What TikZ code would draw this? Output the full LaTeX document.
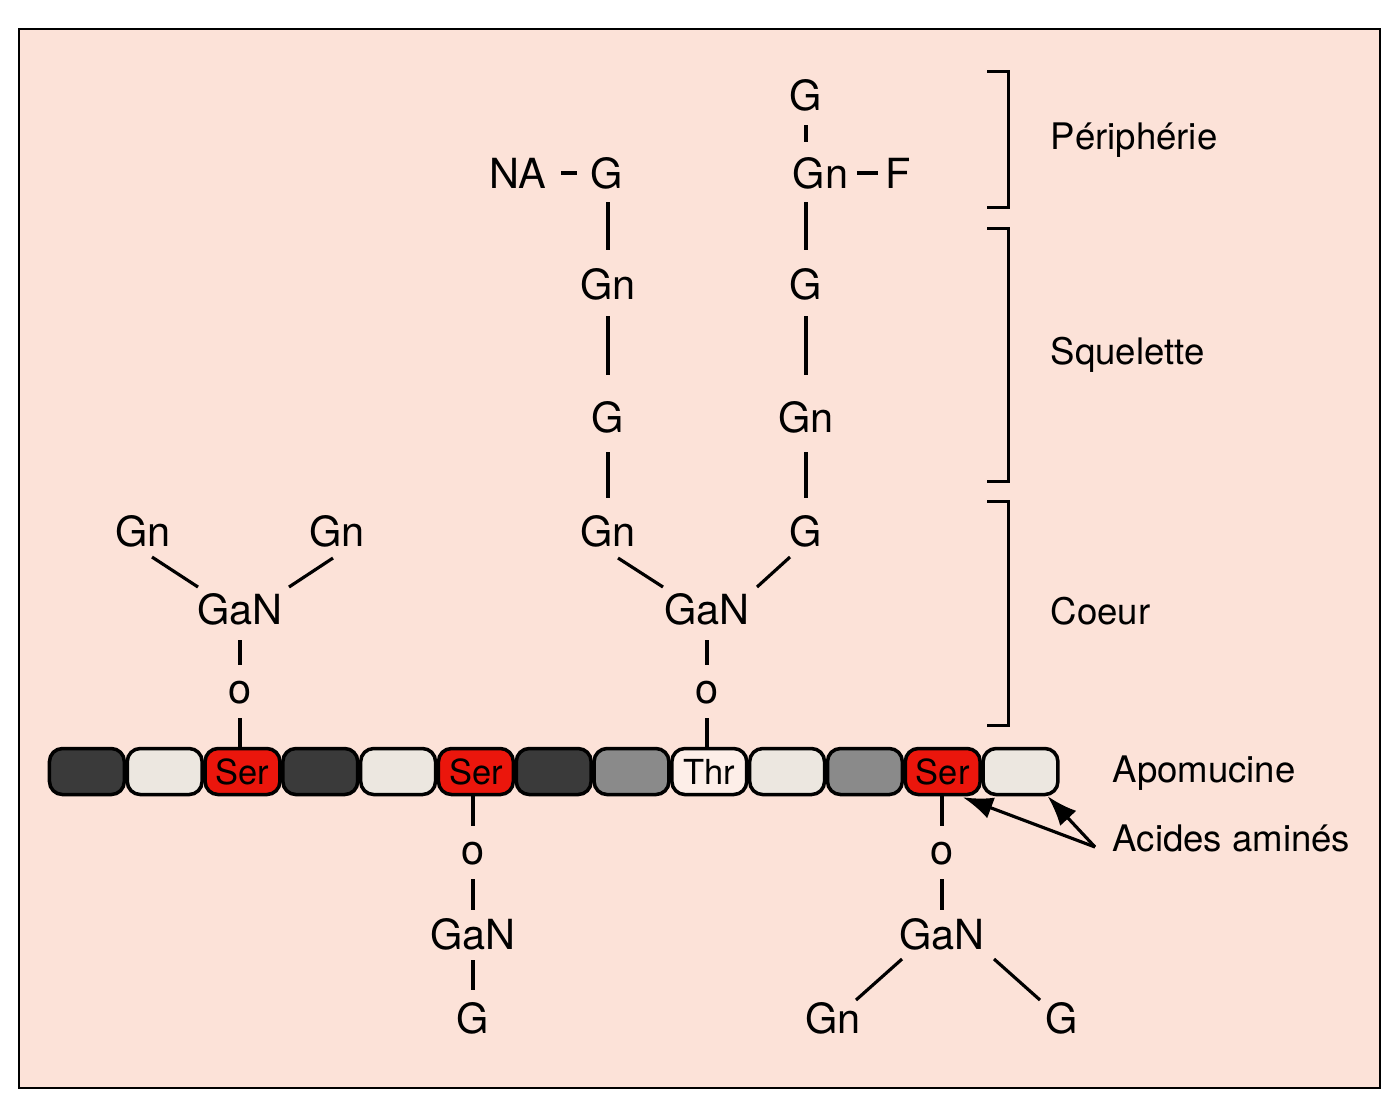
\documentclass[tikz,border=0pt]{standalone}
\usepackage{fontspec}
\setmainfont{TeX Gyre Heros}
\usetikzlibrary{calc,arrows.meta}
\definecolor{bg}{RGB}{252,226,216}
\definecolor{dk}{RGB}{58,58,58}
\definecolor{lt}{RGB}{236,231,224}
\definecolor{gr}{RGB}{138,138,138}
\definecolor{rd}{RGB}{235,22,12}
\definecolor{pl}{RGB}{253,238,232}
\begin{document}
\begin{tikzpicture}[x=0.01cm,y=-0.01cm,
  t/.style={font=\fontsize{11.8}{13}\selectfont, inner sep=0pt, anchor=base},
  tw/.style={t, anchor=base west},
  lab/.style={font=\fontsize{10.4}{12}\selectfont, inner sep=0pt, anchor=base west},
  lk/.style={line width=0.9pt},
  aa/.style={draw, line width=1pt, rounded corners=0.13cm, minimum width=0.748cm, minimum height=0.46cm, inner sep=0pt, font=\fontsize{9.8}{11}\selectfont},
  brk/.style={line width=0.85pt}]
\useasboundingbox (0,0) rectangle (1392,1108);
\fill[white] (0,0) rectangle (1392,1108);
\draw[line width=0.7pt, fill=bg] (19,29) rectangle (1380,1088);

% amino acid chain
\foreach \i/\c/\l in {0/dk/{},1/lt/{},2/rd/Ser,3/dk/{},4/lt/{},5/rd/Ser,6/dk/{},7/gr/{},8/pl/Thr,9/lt/{},10/gr/{},11/rd/Ser,12/lt/{}}
  \node[aa, fill=\c] (b\i) at ({48+77.8*(\i+0.5)},771.5) {\l};

% left tree (Ser)
\node[t] (gnL1) at (143,546) {Gn};
\node[t] (gnL2) at (337,546) {Gn};
\node[t] (ganL) at (240,624) {GaN};
\node[t] (oL) at (240,703) {o};
\draw[lk] ($(gnL1.base)+(9,11)$) -- ($(ganL.base)+(-42,-37)$);
\draw[lk] ($(gnL2.base)+(-4,12)$) -- ($(ganL.base)+(49,-37)$);
\draw[lk] ($(ganL.base)+(0,16)$) -- ($(oL.base)+(0,-38)$);
\draw[lk] ($(oL.base)+(0,15)$) -- (oL.base |- b2.north);

% middle tree (Thr)
\node[t] (ganM) at (707,624) {GaN};
\node[t] (oM) at (707,703) {o};
\node[t] (gnM1) at (608,546) {Gn};
\node[t] (gM1) at (806,546) {G};
\node[t] (gM2) at (608,432) {G};
\node[t] (gnM2) at (806,432) {Gn};
\node[t] (gnM3) at (608,299) {Gn};
\node[t] (gM3) at (806,299) {G};
\node[t] (gNA) at (607,188) {G};
\node[t] (na) at (518,188) {NA};
\node[tw] (gnM4) at (792,188) {Gn};
\node[tw] (f) at (885,188) {F};
\node[t] (gTop) at (806,110) {G};

\draw[lk] ($(gnM1.base)+(10,12)$) -- ($(ganM.base)+(-44,-37)$);
\draw[lk] ($(gM1.base)+(-16,11)$) -- ($(ganM.base)+(50,-37)$);
\draw[lk] ($(ganM.base)+(0,16)$) -- ($(oM.base)+(0,-38)$);
\draw[lk] ($(oM.base)+(0,15)$) -- (oM.base |- b8.north);

\draw[lk] ($(gM2.base)+(0,20)$) -- ($(gnM1.base)+(0,-48)$);
\draw[lk] ($(gnM3.base)+(0,17)$) -- ($(gM2.base)+(0,-57)$);
\draw[lk] ($(gNA.base)+(1,14)$) -- ($(gnM3.base)+(0,-49)$);
\draw[lk] ($(na.base east)+(14,-15)$) -- ($(gNA.base west)+(-13,-15)$);

\draw[lk] ($(gnM2.base)+(0,20)$) -- ($(gM1.base)+(0,-48)$);
\draw[lk] ($(gM3.base)+(0,17)$) -- ($(gnM2.base)+(0,-57)$);
\draw[lk] ($(gM3.base |- gnM4.base)+(0,14)$) -- ($(gM3.base)+(0,-49)$);
\draw[lk] ($(gnM4.base east)+(8,-15)$) -- ($(f.base west)+(-7,-15)$);
\draw[lk] ($(gTop.base)+(0,15)$) -- ($(gTop.base |- gnM4.base)+(0,-46)$);

% bottom middle (Ser)
\node[t] (oB1) at (473,864) {o};
\node[t] (ganB1) at (473,949) {GaN};
\node[t] (gB1) at (473,1033) {G};
\draw[lk] (oB1.base |- b5.south) -- ($(oB1.base)+(0,-38)$);
\draw[lk] ($(oB1.base)+(0,15)$) -- ($(ganB1.base)+(0,-39)$);
\draw[lk] ($(ganB1.base)+(0,11)$) -- ($(gB1.base)+(0,-43)$);

% bottom right (Ser)
\node[t] (oB2) at (942,864) {o};
\node[t] (ganB2) at (942,949) {GaN};
\node[t] (gnB2) at (833,1033) {Gn};
\node[t] (gB2) at (1062,1033) {G};
\draw[lk] (oB2.base |- b11.south) -- ($(oB2.base)+(0,-38)$);
\draw[lk] ($(oB2.base)+(0,15)$) -- ($(ganB2.base)+(0,-39)$);
\draw[lk] ($(ganB2.base)+(-40,10)$) -- ($(gnB2.base)+(23,-33)$);
\draw[lk] ($(ganB2.base)+(52,10)$) -- ($(gB2.base)+(-22,-33)$);

% brackets
\draw[brk] (987,71) -- (1008,71) -- (1008,207) -- (987,207);
\draw[brk] (987,228) -- (1008,228) -- (1008,481) -- (987,481);
\draw[brk] (987,501) -- (1008,501) -- (1008,725) -- (987,725);

% labels
\node[lab] (peri) at (1050,149) {Périphérie};
\node[lab] (sq) at (1050,364) {Squelette};
\node[lab] (coeur) at (1050,624) {Coeur};
\node[lab] (apo) at (1112,782) {Apomucine};
\node[lab] (acides) at (1112,851) {Acides aminés};

\coordinate (ac) at ($(acides.base west)+(-17,-4)$);
\draw[lk, -{Latex[length=0.3cm,width=0.22cm]}] (ac) -- ($(b11.south east)+(-19,1)$);
\draw[lk, -{Latex[length=0.3cm,width=0.22cm]}] (ac) -- ($(b12.south east)+(-12,0)$);
\end{tikzpicture}
\end{document}
